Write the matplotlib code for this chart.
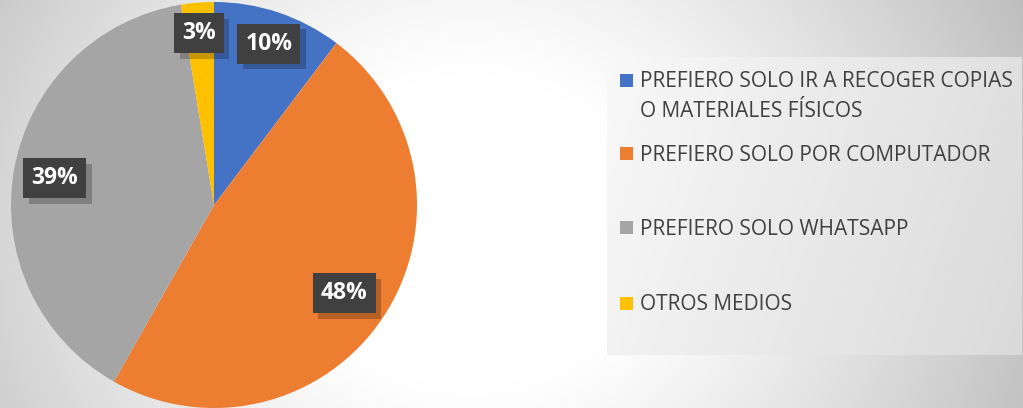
import numpy as np
import matplotlib
matplotlib.use("Agg")
import matplotlib.pyplot as plt
from matplotlib.patches import Rectangle
from matplotlib.path import Path
import matplotlib.patheffects as pe

# ---- data ----
categories = [
    "PREFIERO SOLO IR A RECOGER COPIAS\nO MATERIALES FÍSICOS",
    "PREFIERO SOLO POR COMPUTADOR",
    "PREFIERO SOLO WHATSAPP",
    "OTROS MEDIOS",
]
values = [10.3, 47.9, 39.2, 2.6]
pct_labels = ["10%", "48%", "39%", "3%"]
colors = ["#4472C4", "#ED7D31", "#A5A5A5", "#FFC000"]

W, H = 1023, 408
plt.rcParams['font.family'] = ['Open Sans', 'DejaVu Sans']
fig = plt.figure(figsize=(W / 100, H / 100), dpi=100)

# ---- background gradient ----
ax_bg = fig.add_axes([0, 0, 1, 1])
yy, xx = np.mgrid[0:H, 0:W]
d = np.sqrt((xx - 470.0) ** 2 + ((yy - 230.0) * 1.1) ** 2)
t = np.clip((d - 170) / 460, 0, 1)
g = 1 - 0.27 * t ** 1.2
ax_bg.imshow(np.dstack([g, g, g]), aspect='auto', extent=(0, W, H, 0),
             interpolation='bilinear')
ax_bg.set_xlim(0, W)
ax_bg.set_ylim(H, 0)
ax_bg.set_axis_off()

# ---- legend box gradient ----
lx0, ly0, lx1, ly1 = 607, 57, 1022, 355
ax_lg = fig.add_axes([lx0 / W, 1 - ly1 / H, (lx1 - lx0) / W, (ly1 - ly0) / H])
gx = np.linspace(0, 1, 300)[None, :]
gy = np.linspace(0, 1, 100)[:, None]
tt = np.clip(0.8 * gx + 0.2 * gy, 0, 1)
lg = 0.975 - 0.12 * tt
ax_lg.imshow(np.dstack([lg, lg, lg]), aspect='auto', extent=(0, 1, 1, 0))
ax_lg.set_axis_off()


# label box: fixed-height rectangle with horizontal padding (display px)
def label_box(x0, y0, width, height, mutation_size):
    padx, half_h = 8.0, 20.0
    ymid = y0 + height / 2
    xa, xb = x0 - padx, x0 + width + padx
    ya, yb = ymid - half_h, ymid + half_h
    return Path([(xa, ya), (xb, ya), (xb, yb), (xa, yb), (xa, ya)],
                closed=True)


# ---- pie ----
cx, cy, r = 214, 205, 203
ax = fig.add_axes([(cx - r) / W, (H - cy - r) / H, 2 * r / W, 2 * r / H])
ax.patch.set_alpha(0)
wedges, _ = ax.pie(values, colors=colors, startangle=90, counterclock=False,
                   radius=1, wedgeprops=dict(linewidth=0))
ax.set_xlim(-1, 1)
ax.set_ylim(-1, 1)
ax.set_aspect('equal')
ax.set_axis_off()

label_dist = [0.84, 0.775, 0.795, 0.85]
label_shift = [-0.2, -0.8, 0.5, 0.3]
for w, lab, dist, sh in zip(wedges, pct_labels, label_dist, label_shift):
    ang = np.deg2rad((w.theta1 + w.theta2) / 2 + sh)
    x, y = dist * np.cos(ang), dist * np.sin(ang)
    txt = ax.text(x, y, lab, ha='center', va='center', fontsize=16.5,
                  fontweight='bold', color='white', zorder=5,
                  bbox=dict(boxstyle=label_box, facecolor='#404040',
                            edgecolor='none', linewidth=0))
    txt.get_bbox_patch().set_path_effects([
        pe.SimplePatchShadow(offset=(4, -4), shadow_rgbFace='black',
                             alpha=0.22),
        pe.Normal()])

# ---- legend (manual) ----
sq = 13
text_x = 640
first_baselines = [87, 161, 235, 310]
line_step = 30
legend_texts = []
for lab, col, base in zip(categories, colors, first_baselines):
    ccy = base - 7
    fig.patches.append(Rectangle(((text_x - 20) / W, 1 - (ccy + sq / 2) / H),
                                 sq / W, sq / H, transform=fig.transFigure,
                                 facecolor=col, edgecolor='none', zorder=3))
    for i, line in enumerate(lab.split("\n")):
        tx = fig.text(text_x / W, 1 - (base + i * line_step) / H, line,
                      ha='left', va='baseline', fontsize=13,
                      color='#404040', zorder=4)
        legend_texts.append(tx)

# scale legend font so the longest line spans ~372 px
renderer = fig.canvas.get_renderer()
wmax = max(t.get_window_extent(renderer).width for t in legend_texts)
fs = 13 * 372.0 / wmax
for t in legend_texts:
    t.set_fontsize(fs)

fig.savefig("out.png", dpi=100)
